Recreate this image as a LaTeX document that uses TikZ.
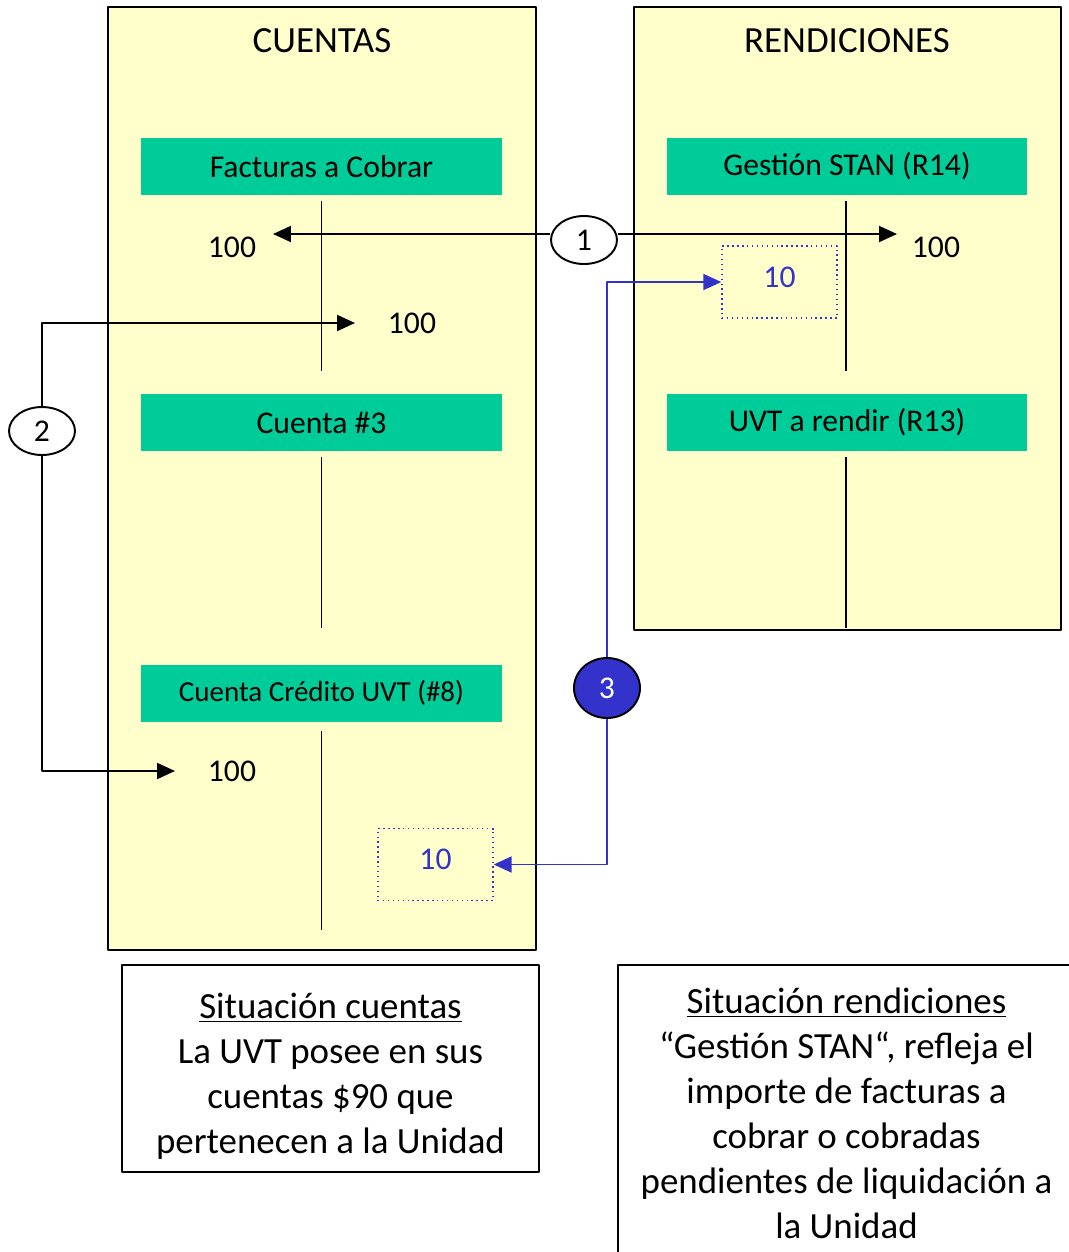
\documentclass[tikz,border=0pt]{standalone}
\usepackage{fontspec}
\setmainfont{Carlito}
\usetikzlibrary{positioning, shapes.geometric, arrows.meta}

\definecolor{panelyellow}{HTML}{FFFFCC}
\definecolor{ctagreen}{HTML}{00CC99}
\definecolor{movblue}{HTML}{3333CC}

\begin{document}
\begin{tikzpicture}[x=0.02cm, y=-0.02cm, >={Triangle[length=3.6mm,width=3.2mm]}, line join=bevel,
        panel/.style={draw, fill=panelyellow, line width=1.1pt},
        cta/.style={fill=ctagreen, minimum width=7.22cm, minimum height=1.14cm, inner sep=0pt,
                    font=\fontsize{18}{22}\selectfont},
        tline/.style={line width=1.1pt},
        num/.style={font=\fontsize{18}{22}\selectfont},
        movstep/.style={draw, ellipse, line width=1.1pt, minimum width=1.32cm, minimum height=0.96cm,
                     inner sep=0pt, font=\fontsize{18}{22}\selectfont},
        adjbox/.style={draw=movblue, dotted, line width=0.8pt, text=movblue, minimum width=2.3cm,
                       minimum height=1.44cm, inner sep=0pt, text height=0.4cm, text depth=0.2cm,
                       font=\fontsize{18}{22}\selectfont},
        note/.style={draw, line width=1.1pt, align=center, inner sep=0pt,
                     font=\fontsize{21}{25.6}\selectfont}]
        \clip (0,0) rectangle (1069,1252);

        % panels
        \draw[panel] (108,7) rectangle (536,950);
        \draw[panel] (634,7) rectangle (1061,630);
        \node[font=\fontsize{21}{25}\selectfont] (tcuentas) at (322,41) {CUENTAS};
        \node[font=\fontsize{21}{25}\selectfont] (trendic) at (847,41) {RENDICIONES};

        % cuentas
        \node[cta] (facturas) at (321.5,166.5) {Facturas a Cobrar};
        \node[cta] (cuenta3) at (321.5,422.5) {Cuenta \#3};
        \node[cta, font=\fontsize{16.5}{20}\selectfont] (credito) at (321.5,693) {Cuenta Crédito UVT (\#8)};
        \node[cta] (gestion) at (847,166.5) {Gestión STAN (R14)};
        \node[cta] (uvtrendir) at (847,422.5) {UVT a rendir (R13)};

        \draw[tline] (facturas.south) ++(0,6) -- ++(0,170);
        \draw[tline] (cuenta3.south) ++(0,6) -- ++(0,171);
        \draw[tline] (credito.south) ++(0,9) -- ++(0,199);
        \draw[tline] (gestion.south -| 846,0) ++(0,6) -- ++(0,170);
        \draw[tline] (uvtrendir.south -| 846,0) ++(0,6) -- ++(0,171);

        % importes
        \node[num] (fac100a) at (232,247) {100};
        \node[num] (fac100b) at (412,323) {100};
        \node[num] (ges100) at (936,247) {100};
        \node[num] (cre100) at (232,771) {100};
        \node[adjbox] (ges10) at (779.5,282) {10};
        \node[adjbox] (cre10) at (435.5,864.5) {10};

        % movimientos
        \node[movstep] (one) at (584,240) {1};
        \node[movstep] (two) at (42,431) {2};
        \node[movstep, fill=movblue, text=white, minimum height=1.2cm] (three) at (607,688) {3};

        \coordinate (tip1l) at (273,234);
        \coordinate (tip1r) at (897,234);
        \coordinate (tip2a) at (355,323);
        \coordinate (tip2b) at (175,771);

        \draw[->, line width=1.1pt] (one.west |- tip1l) -- (tip1l);
        \draw[->, line width=1.1pt] (one.east |- tip1r) -- (tip1r);
        \draw[->, line width=1.1pt] (two.north) |- (tip2a);
        \draw[->, line width=1.1pt] (two.south) |- (tip2b);
        \draw[->, movblue, line width=1.1pt] (three.north) |- (ges10.west);
        \draw[->, movblue, line width=1.1pt] (three.south) |- (cre10.east);

        % situacion
        \node[note, minimum width=8.34cm, minimum height=4.14cm] (sitcuentas) at (330.5,1068.5)
            {\rule{0pt}{23pt}\underline{Situación cuentas}\\La UVT posee en sus\\cuentas \$90 que\\pertenecen a la Unidad};
        \node[note, minimum width=9.14cm, minimum height=5.94cm] (sitrendic) at (846.5,1113.5)
            {\underline{Situación rendiciones}\\“Gestión STAN“, refleja el\\importe de facturas a\\cobrar o cobradas\\pendientes de liquidación a\\la Unidad};
\end{tikzpicture}
\end{document}
